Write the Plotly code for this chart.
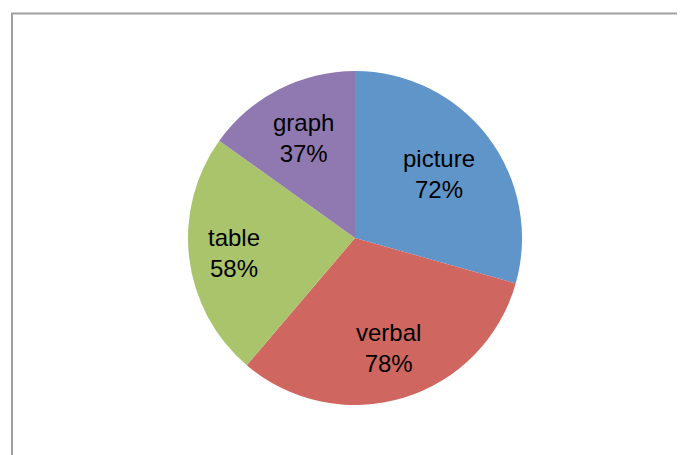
import math
import plotly.graph_objects as go

categories = ["picture", "verbal", "table", "graph"]
values = [72, 78, 58, 37]
value_labels = ["72%", "78%", "58%", "37%"]
colors = ["#5F95C8", "#CF6660", "#AAC46C", "#9079B1"]

W, H = 685, 455
OFF = 8  # page body margin
cx, cy, r = 355 - OFF, 238 - OFF, 167
FS = 24

fig = go.Figure(go.Pie(
    labels=categories,
    values=values,
    textinfo="none",
    marker=dict(colors=colors, line=dict(width=0)),
    sort=False,
    direction="clockwise",
    rotation=0,
    hoverinfo="label+value",
    domain=dict(x=[(cx - r) / W, (cx + r) / W], y=[(H - cy - r) / H, (H - cy + r) / H]),
))

# Arial advance widths (1/1000 em) for text-box estimation
CW = {"a": 556, "b": 556, "c": 500, "e": 556, "g": 556, "h": 556, "i": 222,
      "l": 222, "p": 556, "r": 333, "t": 278, "u": 556, "v": 500, "%": 889}
def text_w(s):
    return sum(CW.get(ch, 556) for ch in s) * FS / 1000.0

total = sum(values)
acc = 0.0
edge = 0.905 * r
hh = 28
for lab, val, vl in zip(categories, values, value_labels):
    mid = (acc + val / 2) / total * 2 * math.pi
    acc += val
    hw = max(text_w(lab), text_w(vl)) / 2
    s = hw * abs(math.sin(mid)) + hh * abs(math.cos(mid))
    d = edge - s
    x = cx + d * math.sin(mid)
    y = cy - d * math.cos(mid)
    fig.add_annotation(x=x / W, y=1 - y / H, xref="paper", yref="paper",
                       text=f"{lab}<br>{vl}", showarrow=False,
                       xanchor="center", yanchor="middle",
                       font=dict(family="Liberation Sans, Arial", size=FS, color="black"))

fig.add_shape(type="rect", xref="paper", yref="paper",
              x0=(12 - OFF) / W, x1=1.2, y0=-0.2, y1=1 - (13.5 - OFF) / H,
              line=dict(color="#A0A0A0", width=2), fillcolor="rgba(0,0,0,0)")

fig.update_layout(
    width=W, height=H,
    margin=dict(l=0, r=0, t=0, b=0),
    showlegend=False,
    paper_bgcolor="white",
    plot_bgcolor="white",
)

fig.write_html("out.html")
